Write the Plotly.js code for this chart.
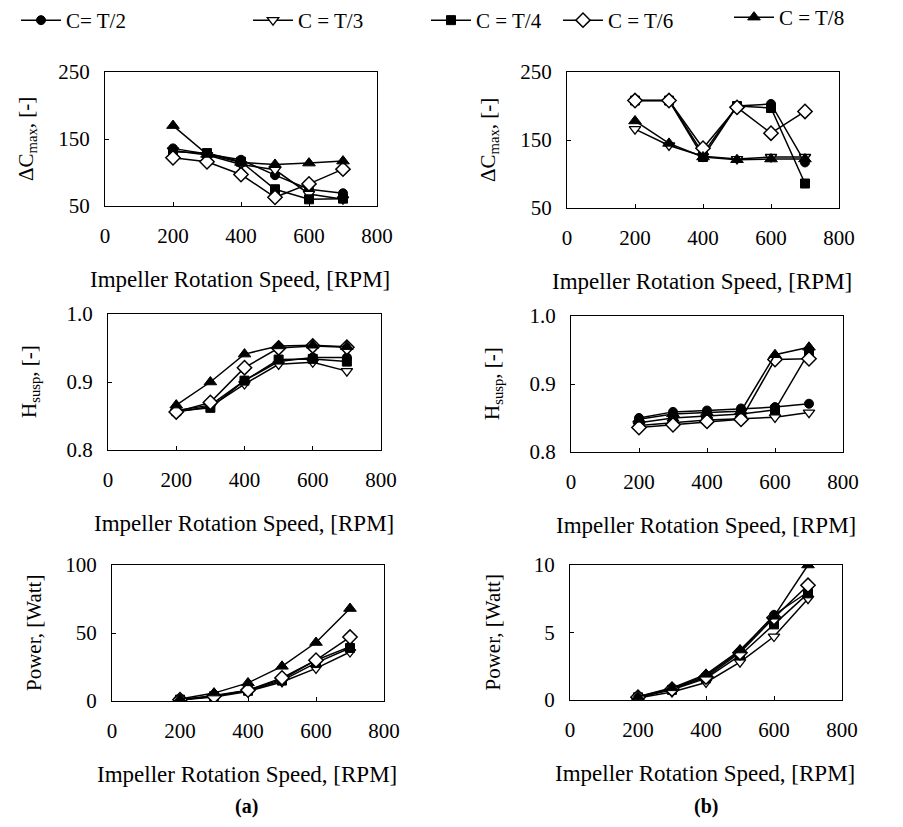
<!DOCTYPE html>
<html>
<head>
<meta charset="utf-8">
<script src="https://cdn.plot.ly/plotly-3.0.1.min.js"></script>
<style>html,body{margin:0;padding:0;background:#fff;}#chart{width:903px;height:827px;}</style>
</head>
<body>
<div id="chart"></div>
<script>
// ---- data ----
const rpm = [200, 300, 400, 500, 600, 700];
const seriesNames = ['C= T/2', 'C = T/3', 'C = T/4', 'C = T/6', 'C = T/8'];

// panel (a) - rows are series T/2, T/3, T/4, T/6, T/8
const dCmaxA = [
  [136, 127, 119, 96, 75, 69],
  [133, 126, 112, 104, 68, 60],
  [131, 129, 116, 75, 60, 61],
  [122, 116, 97, 63, 83, 105],
  [170, 127, 115, 112, 114, 117]
];
const hSuspA = [
  [0.858, 0.866, 0.902, 0.930, 0.936, 0.936],
  [0.856, 0.864, 0.897, 0.926, 0.929, 0.916],
  [0.857, 0.862, 0.902, 0.933, 0.934, 0.930],
  [0.856, 0.870, 0.921, 0.950, 0.953, 0.951],
  [0.866, 0.900, 0.941, 0.953, 0.954, 0.952]
];
const powerA = [
  [1.0, 4.0, 8.0, 16, 30, 40],
  [0.8, 3.0, 7.0, 14, 24, 36],
  [1.0, 3.5, 7.5, 15, 28, 39],
  [1.0, 3.5, 8.0, 17, 30, 47],
  [1.5, 5.8, 13.3, 25.5, 43, 68]
];
// panel (b)
const dCmaxB = [
  [208, 208, 130, 200, 203, 117],
  [166, 142, 126, 122, 125, 125],
  [208, 208, 125, 200, 197, 86],
  [208, 208, 138, 198, 160, 192],
  [178, 145, 125, 121, 122, 122]
];
const hSuspB = [
  [0.850, 0.859, 0.861, 0.864, 0.866, 0.871],
  [0.839, 0.843, 0.847, 0.849, 0.851, 0.858],
  [0.843, 0.850, 0.853, 0.856, 0.862, 0.947],
  [0.836, 0.840, 0.845, 0.848, 0.936, 0.937],
  [0.848, 0.856, 0.858, 0.860, 0.943, 0.954]
];
const powerB = [
  [0.25, 0.85, 1.8, 3.6, 6.3, 8.0],
  [0.15, 0.6, 1.3, 2.8, 4.7, 7.5],
  [0.2, 0.75, 1.6, 3.3, 5.6, 7.9],
  [0.2, 0.8, 1.7, 3.5, 6.1, 8.5],
  [0.25, 0.9, 1.9, 3.7, 6.2, 10.0]
];
const xTitle = 'Impeller Rotation Speed, [RPM]';
const yTitles = ['ΔC<sub>max</sub>, [-]', 'H<sub>susp</sub>, [-]', 'Power, [Watt]'];

// ---- styling ----
const W = 903, H = 827;
const FONT = 'Liberation Serif, Times New Roman, serif';
const markerStyles = [
  {symbol: 'circle', size: 9, color: '#000', line: {color: '#000', width: 1}},
  {symbol: 'triangle-down', size: 10, color: '#fff', line: {color: '#000', width: 1.3}},
  {symbol: 'square', size: 9, color: '#000', line: {color: '#000', width: 1}},
  {symbol: 'diamond', size: 11, color: '#fff', line: {color: '#000', width: 1.5}},
  {symbol: 'triangle-up', size: 11, color: '#000', line: {color: '#000', width: 1}}
];
const px = x => x / W;
const py = y => 1 - y / H;

// panel boxes in pixels: [left, right, top, bottom]
const boxes = [
  [105, 377, 72, 206], [567, 839, 72, 208],
  [108, 381, 314, 450], [571, 843, 316, 452],
  [112, 384, 565, 701], [570, 842, 565, 700]
];
const panelData = [dCmaxA, dCmaxB, hSuspA, hSuspB, powerA, powerB];
const yRanges = [[50, 250], [50, 250], [0.8, 1.0], [0.8, 1.0], [0, 100], [0, 10]];
const yDticks = [100, 100, 0.1, 0.1, 50, 5];
const yFormats = ['', '', '.1f', '.1f', '', ''];

const traces = [];
const layout = {
  width: W, height: H,
  margin: {l: 0, r: 0, t: 0, b: 0, autoexpand: false},
  paper_bgcolor: '#fff', plot_bgcolor: '#fff',
  font: {family: FONT, color: '#000', size: 21},
  annotations: [],
  showlegend: true
};

panelData.forEach((pd, p) => {
  const ax = p === 0 ? '' : String(p + 1);
  const b = boxes[p];
  layout['xaxis' + ax] = {
    domain: [px(b[0]), px(b[1])], anchor: 'y' + ax,
    range: [0, 800], tick0: 0, dtick: 200,
    showgrid: false, zeroline: false, showline: true, mirror: true,
    linecolor: '#000', linewidth: 1, ticks: 'inside', ticklen: 4, tickcolor: '#000',
    ticklabelstandoff: 11,
    tickfont: {family: FONT, size: 21, color: '#000'}, fixedrange: true
  };
  layout['yaxis' + ax] = {
    domain: [py(b[3]), py(b[2])], anchor: 'x' + ax,
    range: yRanges[p], dtick: yDticks[p], tick0: yRanges[p][0], tickformat: yFormats[p],
    showgrid: false, zeroline: false, showline: true, mirror: true,
    linecolor: '#000', linewidth: 1, ticks: 'inside', ticklen: 4, tickcolor: '#000',
    ticklabelstandoff: 10,
    tickfont: {family: FONT, size: 21, color: '#000'}, fixedrange: true
  };
  pd.forEach((vals, s) => {
    traces.push({
      type: 'scatter', mode: 'lines+markers',
      x: rpm, y: vals,
      xaxis: 'x' + ax, yaxis: 'y' + ax,
      name: seriesNames[s],
      line: {color: '#000', width: 1.5},
      marker: markerStyles[s],
      showlegend: p === 0,
      legend: s === 0 ? 'legend' : 'legend' + (s + 1),
      hoverinfo: 'x+y'
    });
  });
  // axis titles
  const cx = (b[0] + b[1]) / 2;
  layout.annotations.push({
    xref: 'paper', yref: 'paper', x: px(cx - 1), y: py(b[3] + 73),
    xanchor: 'center', yanchor: 'middle', showarrow: false,
    text: xTitle, font: {family: FONT, size: 23, color: '#000'}
  });
  layout.annotations.push({
    xref: 'paper', yref: 'paper', x: px(b[0] - 78), y: py((b[2] + b[3]) / 2),
    xanchor: 'center', yanchor: 'middle', showarrow: false, textangle: -90,
    text: yTitles[Math.floor(p / 2)], font: {family: FONT, size: 21, color: '#000'}
  });
});

layout.annotations.push({xref: 'paper', yref: 'paper', x: px(247), y: py(806), showarrow: false,
  xanchor: 'center', yanchor: 'middle', text: '<b>(a)</b>', font: {family: FONT, size: 20, color: '#000'}});
layout.annotations.push({xref: 'paper', yref: 'paper', x: px(706), y: py(806), showarrow: false,
  xanchor: 'center', yanchor: 'middle', text: '<b>(b)</b>', font: {family: FONT, size: 20, color: '#000'}});

// legends (one per series, positioned like the reference)
const legendX = [16, 248, 426, 558, 729];
const legendY = [0, 0, 0, 0, -3];
legendX.forEach((lx, i) => {
  layout[i === 0 ? 'legend' : 'legend' + (i + 1)] = {
    x: px(lx), y: py(legendY[i]), xanchor: 'left', yanchor: 'top',
    orientation: 'h', bgcolor: 'rgba(0,0,0,0)', borderwidth: 0, itemwidth: 40,
    font: {family: FONT, size: 21, color: '#000'}
  };
});

Plotly.newPlot('chart', traces, layout, {displayModeBar: false, staticPlot: true});
</script>
</body>
</html>
